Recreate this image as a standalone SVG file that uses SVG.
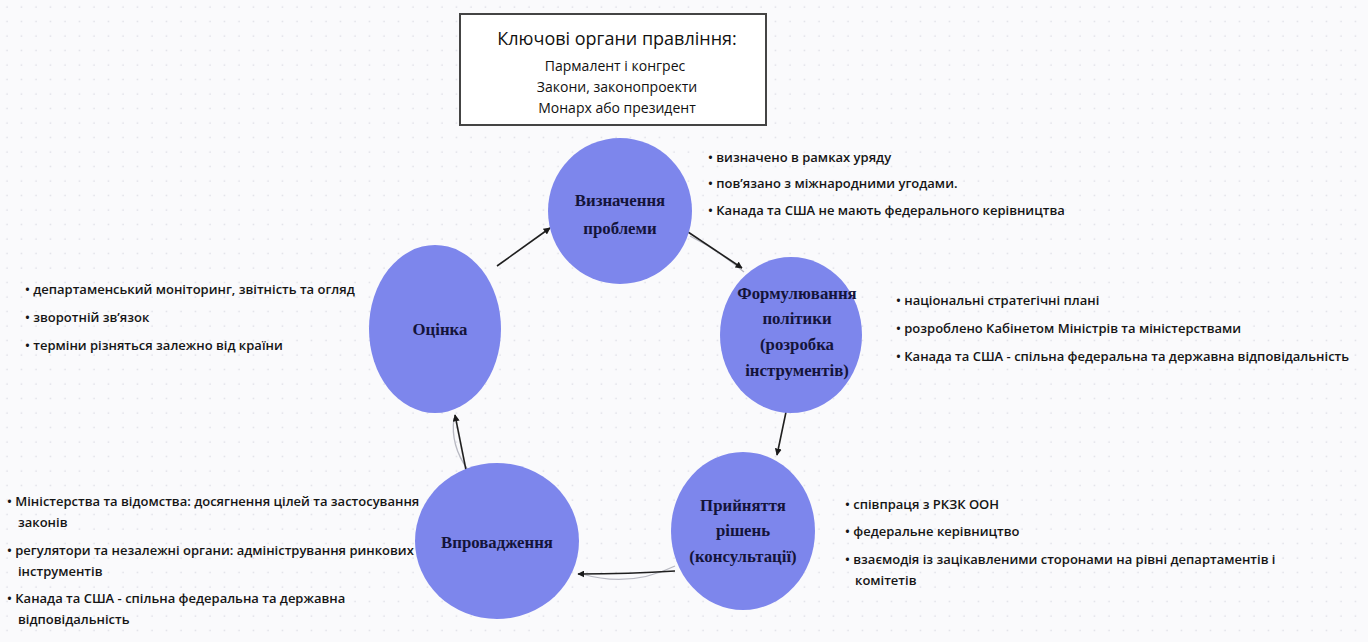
<svg xmlns="http://www.w3.org/2000/svg" width="1368" height="642" viewBox="0 0 1368 642">
<defs>
<pattern id="dots" x="0" y="0" width="14.5" height="14.5" patternUnits="userSpaceOnUse">
<circle cx="7" cy="7" r="0.8" fill="#d6d7e0"/>
</pattern>
<marker id="arr" viewBox="0 0 10 10" refX="9" refY="5" markerWidth="7" markerHeight="7" orient="auto-start-reverse" markerUnits="userSpaceOnUse">
<path d="M0,0 L10,5 L0,10 z" fill="#1a1a1a"/>
</marker>
<style>
.node{fill:#7d86ec;}
.nt{font-family:"Liberation Serif",serif;font-weight:bold;font-size:16.8px;fill:#14143a;text-anchor:middle;}
.bt{font-family:"Open Sans","Noto Sans",sans-serif;font-size:13px;font-weight:600;fill:#151515;}
.conn{stroke:#1f1f1f;stroke-width:1.6;fill:none;marker-end:url(#arr);}
.ghost{stroke:#b8b9c2;stroke-width:1.3;fill:none;}
.tt{font-family:"Open Sans","Noto Sans",sans-serif;fill:#111;text-anchor:middle;}
</style>
</defs>
<rect width="1368" height="642" fill="#fafafc"/>
<rect width="1368" height="642" fill="url(#dots)"/>

<g id="key-bodies">
<rect x="460" y="14" width="306" height="111" fill="#ffffff" stroke="#444" stroke-width="2"/>
<text class="tt" x="617" y="45" font-size="18" font-weight="500">Ключові органи правління:</text>
<text class="tt" x="615" y="71" font-size="14" font-weight="500">Пармалент і конгрес</text>
<text class="tt" x="617" y="92" font-size="14" font-weight="500">Закони, законопроекти</text>
<text class="tt" x="617" y="113" font-size="14" font-weight="500">Монарх або президент</text>
</g>

<g id="connectors">
<path class="ghost" d="M690,236 Q718,250 744,272"/>
<path class="ghost" d="M675,566 Q630,588 582,574"/>
<path class="ghost" d="M468,470 Q450,445 454,418"/>
<path class="conn" d="M497,266 L550,228"/>
<path class="conn" d="M688,232 L742,268"/>
<path class="conn" d="M786,412 L777,455"/>
<path class="conn" d="M675,571 Q630,574 578,574"/>
<path class="conn" d="M466,470 L455,415"/>
</g>

<g id="node-problem">
<ellipse class="node" cx="620" cy="211" rx="72" ry="73"/>
<text class="nt" x="620" y="206">Визначення</text>
<text class="nt" x="620" y="234">проблеми</text>
</g>
<g id="notes-problem">
<text class="bt" x="708" y="162">• визначено в рамках уряду</text>
<text class="bt" x="708" y="188">• пов’язано з міжнародними угодами.</text>
<text class="bt" x="708" y="215">• Канада та США не мають федерального керівництва</text>
</g>

<g id="node-formulation">
<ellipse class="node" cx="791" cy="335" rx="71" ry="78"/>
<text class="nt" x="797" y="299">Формулювання</text>
<text class="nt" x="797" y="324">політики</text>
<text class="nt" x="797" y="350">(розробка</text>
<text class="nt" x="797" y="376">інструментів)</text>
</g>
<g id="notes-formulation">
<text class="bt" x="896" y="305">• національні стратегічні плані</text>
<text class="bt" x="896" y="333">• розроблено Кабінетом Міністрів та міністерствами</text>
<text class="bt" x="896" y="361">• Канада та США - спільна федеральна та державна відповідальність</text>
</g>

<g id="node-decision">
<ellipse class="node" cx="743" cy="531" rx="72" ry="79"/>
<text class="nt" x="743" y="511">Прийняття</text>
<text class="nt" x="743" y="536">рішень</text>
<text class="nt" x="743" y="562">(консультації)</text>
</g>
<g id="notes-decision">
<text class="bt" x="845" y="509">• співпраця з РКЗК ООН</text>
<text class="bt" x="845" y="536">• федеральне керівництво</text>
<text class="bt" x="845" y="564">• взаємодія із зацікавленими сторонами на рівні департаментів і</text>
<text class="bt" x="855" y="585">комітетів</text>
</g>

<g id="node-implementation">
<ellipse class="node" cx="497" cy="541" rx="82" ry="78"/>
<text class="nt" x="497" y="548">Впровадження</text>
</g>
<g id="notes-implementation">
<text class="bt" x="7" y="506">• Міністерства та відомства: досягнення цілей та застосування</text>
<text class="bt" x="18" y="527">законів</text>
<text class="bt" x="7" y="555">• регулятори та незалежні органи: адміністрування ринкових</text>
<text class="bt" x="18" y="576">інструментів</text>
<text class="bt" x="7" y="603">• Канада та США - спільна федеральна та державна</text>
<text class="bt" x="18" y="624">відповідальність</text>
</g>

<g id="node-evaluation">
<ellipse class="node" cx="435" cy="329" rx="66" ry="84"/>
<text class="nt" x="440" y="335">Оцінка</text>
</g>
<g id="notes-evaluation">
<text class="bt" x="25" y="294">• департаменський моніторинг, звітність та огляд</text>
<text class="bt" x="25" y="322">• зворотній зв’язок</text>
<text class="bt" x="25" y="350">• терміни різняться залежно від країни</text>
</g>
</svg>
